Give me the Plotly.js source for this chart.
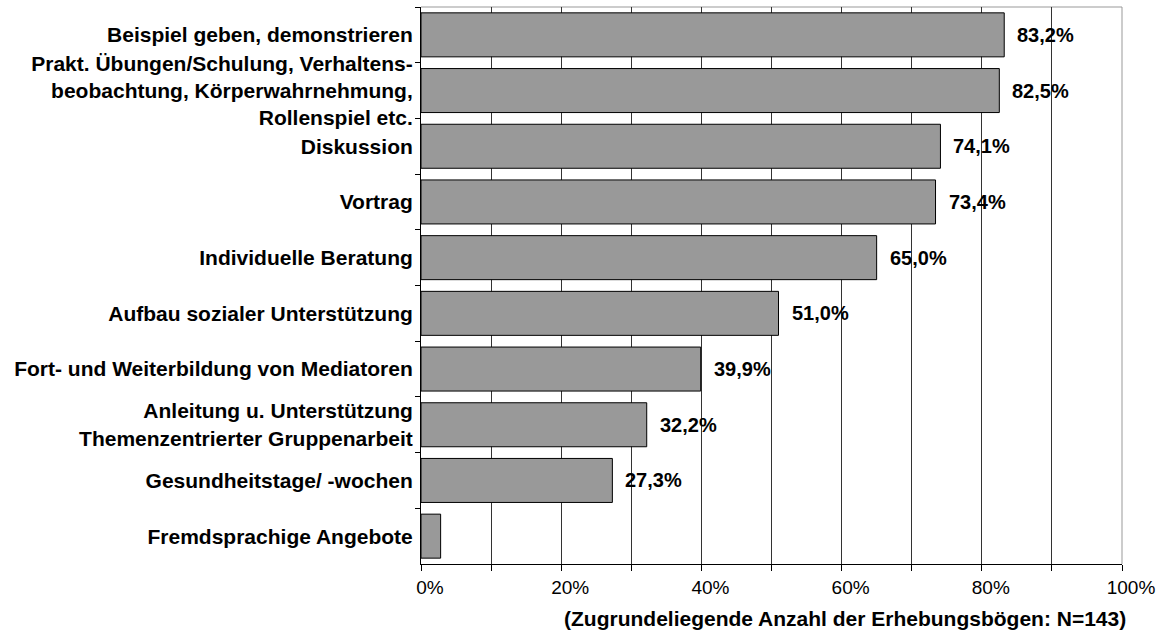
<!DOCTYPE html>
<html>
<head>
<meta charset="utf-8">
<script src="https://cdn.plot.ly/plotly-3.0.1.min.js"></script>
<style>html,body{margin:0;padding:0;background:#fff;}#chart{width:1169px;height:639px;}</style>
</head>
<body>
<div id="chart"></div>
<script>
const categories = [
  "Beispiel geben, demonstrieren",
  "Prakt. Übungen/Schulung, Verhaltens-<br>beobachtung, Körperwahrnehmung,<br>Rollenspiel etc.",
  "Diskussion",
  "Vortrag",
  "Individuelle Beratung",
  "Aufbau sozialer Unterstützung",
  "Fort- und Weiterbildung von Mediatoren",
  "Anleitung u. Unterstützung<br>Themenzentrierter Gruppenarbeit",
  "Gesundheitstage/ -wochen",
  "Fremdsprachige Angebote"
];
const values = [83.2, 82.5, 74.1, 73.4, 65.0, 51.0, 39.9, 32.2, 27.3, 2.8];
const valueLabels = ["83,2%", "82,5%", "74,1%", "73,4%", "65,0%", "51,0%", "39,9%", "32,2%", "27,3%", ""];
const xTickVals = [0, 10, 20, 30, 40, 50, 60, 70, 80, 90, 100];
const xTickText = ["0%", "", "20%", "", "40%", "", "60%", "", "80%", "", "100%"];
const footnote = "(Zugrundeliegende Anzahl der Erhebungsbögen: N=143)";

const FONT = "Liberation Sans, Arial, sans-serif";

const trace = {
  type: "bar",
  orientation: "h",
  x: values,
  y: categories,
  marker: {color: "#999999", line: {color: "#000000", width: 1}},
  hoverinfo: "none"
};

const annotations = values.map((v, i) => ({
  x: v, y: categories[i], xref: "x", yref: "y",
  text: valueLabels[i], showarrow: false,
  xanchor: "left", xshift: 11,
  font: {family: FONT, size: 20, color: "#000", weight: "bold"}
}));
annotations.push({
  xref: "paper", yref: "paper", x: 1.009, y: -0.0987,
  xanchor: "right", yanchor: "middle", showarrow: false,
  text: "<b>" + footnote + "</b>",
  font: {family: FONT, size: 21, color: "#000"}
});

const layout = {
  width: 1169, height: 639,
  margin: {l: 421, r: 47, t: 7, b: 75},
  paper_bgcolor: "#fff", plot_bgcolor: "#fff",
  showlegend: false,
  bargap: 0.21,
  font: {family: FONT, color: "#000"},
  xaxis: {
    range: [0, 100], tickvals: xTickVals, ticktext: xTickText,
    showgrid: true, gridcolor: "#333333", gridwidth: 1,
    showline: true, linecolor: "#000", linewidth: 1,
    ticks: "outside", ticklen: 6, tickcolor: "#000",
    tickfont: {size: 19, family: FONT},
    ticklabelshift: 9,
    zeroline: false, fixedrange: true
  },
  yaxis: {
    type: "category", autorange: "reversed",
    tickson: "boundaries", ticks: "outside", ticklen: 5, tickcolor: "#000",
    showline: true, linecolor: "#000", linewidth: 1,
    showgrid: false, zeroline: false,
    tickfont: {size: 21, family: FONT, weight: "bold"},
    ticklabelstandoff: 3, fixedrange: true
  },
  shapes: [
    {type: "line", xref: "paper", yref: "paper", x0: 0, x1: 1, y0: 1, y1: 1, line: {color: "#999999", width: 1}, layer: "below"},
    {type: "line", xref: "paper", yref: "paper", x0: 1, x1: 1, y0: 0, y1: 1, line: {color: "#999999", width: 1}, layer: "below"}
  ],
  annotations: annotations
};

Plotly.newPlot("chart", [trace], layout, {displayModeBar: false, staticPlot: true});
</script>
</body>
</html>
